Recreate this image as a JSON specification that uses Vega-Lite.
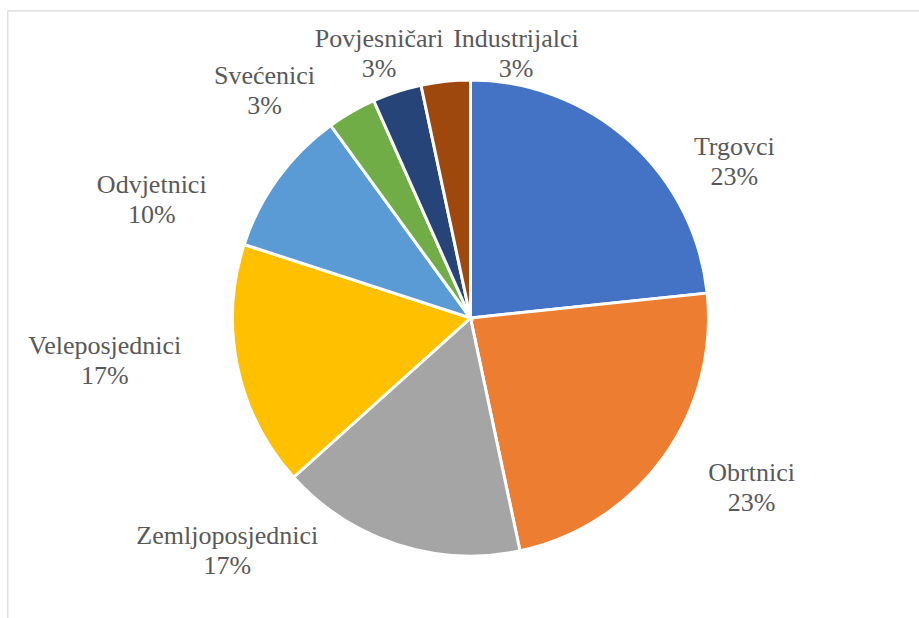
{
  "$schema": "https://vega.github.io/schema/vega-lite/v6.json",
  "width": 926,
  "height": 615,
  "autosize": {"type": "none"},
  "padding": {"left": 7.5, "top": 10.5, "right": -14.5, "bottom": -7.5},
  "background": "white",
  "view": {"stroke": "#d9d9d9", "strokeWidth": 1.2},
  "data": {
    "values": [
      {"name": "Trgovci", "count": 7, "pct": "23%"},
      {"name": "Obrtnici", "count": 7, "pct": "23%"},
      {"name": "Zemljoposjednici", "count": 5, "pct": "17%"},
      {"name": "Veleposjednici", "count": 5, "pct": "17%"},
      {"name": "Odvjetnici", "count": 3, "pct": "10%"},
      {"name": "Svećenici", "count": 1, "pct": "3%"},
      {"name": "Povjesničari", "count": 1, "pct": "3%"},
      {"name": "Industrijalci", "count": 1, "pct": "3%"}
    ]
  },
  "transform": [
    {"window": [{"op": "row_number", "as": "rank"}]},
    {"calculate": "datum.name + '\\n' + datum.pct", "as": "label"}
  ],
  "encoding": {
    "theta": {"field": "count", "type": "quantitative", "stack": true},
    "order": {"field": "rank", "type": "quantitative", "sort": "ascending"},
    "detail": {"field": "name", "type": "nominal"}
  },
  "layer": [
    {
      "mark": {"type": "arc", "outerRadius": 238, "stroke": "white", "strokeWidth": 3},
      "encoding": {
        "color": {
          "field": "name", "type": "nominal", "legend": null,
          "scale": {
            "domain": ["Trgovci", "Obrtnici", "Zemljoposjednici", "Veleposjednici", "Odvjetnici", "Svećenici", "Povjesničari", "Industrijalci"],
            "range": ["#4472C4", "#ED7D31", "#A5A5A5", "#FFC000", "#5B9BD5", "#70AD47", "#264478", "#9E480E"]
          }
        }
      }
    },
    {
      "mark": {"type": "text", "radius": 304, "thetaOffset": 0.318, "dy": -20, "font": "Liberation Serif", "fontSize": 26, "lineBreak": "\n", "lineHeight": 30, "fill": "#595959"},
      "encoding": {"text": {"condition": {"test": "datum.name === 'Trgovci'", "field": "label"}, "value": ""}}
    },
    {
      "mark": {"type": "text", "radius": 330, "thetaOffset": -0.077, "dy": -18, "font": "Liberation Serif", "fontSize": 26, "lineBreak": "\n", "lineHeight": 30, "fill": "#595959"},
      "encoding": {"text": {"condition": {"test": "datum.name === 'Obrtnici'", "field": "label"}, "value": ""}}
    },
    {
      "mark": {"type": "text", "radius": 338, "thetaOffset": 0.489, "dy": -17, "font": "Liberation Serif", "fontSize": 26, "lineBreak": "\n", "lineHeight": 30, "fill": "#595959"},
      "encoding": {"text": {"condition": {"test": "datum.name === 'Zemljoposjednici'", "field": "label"}, "value": ""}}
    },
    {
      "mark": {"type": "text", "radius": 368, "thetaOffset": 0.098, "dy": -13, "font": "Liberation Serif", "fontSize": 26, "lineBreak": "\n", "lineHeight": 30, "fill": "#595959"},
      "encoding": {"text": {"condition": {"test": "datum.name === 'Veleposjednici'", "field": "label"}, "value": ""}}
    },
    {
      "mark": {"type": "text", "radius": 339, "thetaOffset": -0.281, "dy": -18, "font": "Liberation Serif", "fontSize": 26, "lineBreak": "\n", "lineHeight": 30, "fill": "#595959"},
      "encoding": {"text": {"condition": {"test": "datum.name === 'Odvjetnici'", "field": "label"}, "value": ""}}
    },
    {
      "mark": {"type": "text", "radius": 308, "thetaOffset": -0.209, "dy": -13, "font": "Liberation Serif", "fontSize": 26, "lineBreak": "\n", "lineHeight": 30, "fill": "#595959"},
      "encoding": {"text": {"condition": {"test": "datum.name === 'Svećenici'", "field": "label"}, "value": ""}}
    },
    {
      "mark": {"type": "text", "radius": 281, "thetaOffset": -0.017, "dy": -13, "font": "Liberation Serif", "fontSize": 26, "lineBreak": "\n", "lineHeight": 30, "fill": "#595959"},
      "encoding": {"text": {"condition": {"test": "datum.name === 'Povjesničari'", "field": "label"}, "value": ""}}
    },
    {
      "mark": {"type": "text", "radius": 270, "thetaOffset": 0.274, "dy": -13, "font": "Liberation Serif", "fontSize": 26, "lineBreak": "\n", "lineHeight": 30, "fill": "#595959"},
      "encoding": {"text": {"condition": {"test": "datum.name === 'Industrijalci'", "field": "label"}, "value": ""}}
    }
  ]
}
